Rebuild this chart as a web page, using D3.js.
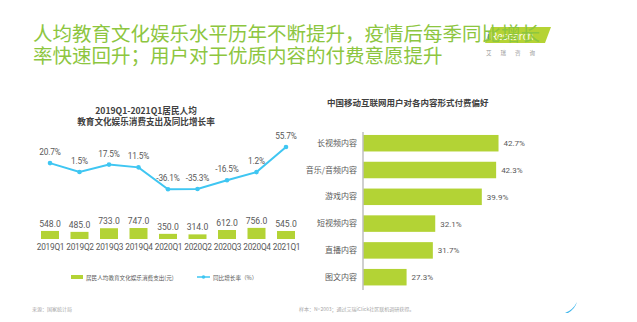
<!DOCTYPE html>
<html><head><meta charset="utf-8">
<script src="https://cdn.jsdelivr.net/npm/d3@7"></script>
<style>
html,body{margin:0;padding:0;background:#fff;}
svg{display:block;font-family:"Noto Sans CJK SC","Noto Sans",sans-serif;}
.num{font-family:Roboto,"Noto Sans",sans-serif;}
</style></head>
<body>
<script>
// ---- data ----
const quarters = ["2019Q1","2019Q2","2019Q3","2019Q4","2020Q1","2020Q2","2020Q3","2020Q4","2021Q1"];
const spending = [548.0,485.0,733.0,747.0,350.0,314.0,612.0,756.0,545.0];
const growth = [20.7,1.5,17.5,11.5,-36.1,-35.3,-16.5,1.2,55.7];
const contentTypes = ["长视频内容","音乐/音频内容","游戏内容","短视频内容","直播内容","图文内容"];
const payShare = [42.7,42.3,39.9,32.1,31.7,27.3];

const W=637,H=322;
const svg=d3.select("body").append("svg").attr("width",W).attr("height",H);
const green="#b3d335", blue="#3fc6f2", txt="#595959";

// logo
const logo=svg.append("g");
logo.append("path").attr("d","M491,27 L551,27 L545,43 L485,43 Z").attr("fill","#b5d334");
logo.append("text").attr("x",487).attr("y",40).attr("font-size",10).attr("fill","#3b8fd6").attr("font-family","Open Sans").text("i");
logo.append("text").attr("x",491).attr("y",40).attr("font-size",10).attr("fill","#fff").attr("font-family","Open Sans").text("Research");
logo.append("text").attr("x",486).attr("y",55).attr("font-size",5.5).attr("fill","#999").attr("letter-spacing",9).text("艾瑞咨询");

// main title
const title=svg.append("g").attr("fill","#8dc63f").attr("font-size",19.5);
title.append("text").attr("x",33).attr("y",41).text("人均教育文化娱乐水平历年不断提升，疫情后每季同比增长");
title.append("text").attr("x",33).attr("y",63).text("率快速回升；用户对于优质内容的付费意愿提升");

// ---- left chart ----
const L=svg.append("g");
L.append("text").attr("x",146).attr("y",114).attr("text-anchor","middle").attr("font-size",8.6).attr("font-weight","bold").attr("fill","#404040").text("2019Q1-2021Q1居民人均");
L.append("text").attr("x",146).attr("y",125).attr("text-anchor","middle").attr("font-size",8.6).attr("font-weight","bold").attr("fill","#404040").text("教育文化娱乐消费支出及同比增长率");

const x=d3.scalePoint().domain(quarters).range([50,286]);
const yb=d3.scaleLinear().domain([0,1000]).range([239,224.3]);
const yl=d3.scaleLinear().domain([-40,60]).range([191.1,145.0]);
const bw=18;

L.selectAll("rect.bar").data(quarters).join("rect").attr("class","bar")
  .attr("x",d=>x(d)-bw/2).attr("width",bw)
  .attr("y",(d,i)=>yb(spending[i])).attr("height",(d,i)=>yb(0)-yb(spending[i]))
  .attr("fill",green);
L.selectAll("text.bl").data(quarters).join("text").attr("class","bl num")
  .attr("x",d=>x(d)).attr("y",(d,i)=>yb(spending[i])-4)
  .attr("text-anchor","middle").attr("font-size",8.6).attr("fill",txt)
  .text((d,i)=>spending[i].toFixed(1));

const xAxis=d3.axisBottom(x).tickSize(0).tickPadding(0);
const ax=L.append("g").attr("transform","translate(0,244)").call(xAxis);
ax.select(".domain").remove();
ax.selectAll("text").attr("font-size",8.3).attr("fill",txt).attr("font-family","Roboto").attr("letter-spacing",-0.25).attr("dy","0.71em");

const line=d3.line().x((d,i)=>x(quarters[i])).y(d=>yl(d));
L.append("path").datum(growth).attr("d",line).attr("fill","none").attr("stroke",blue).attr("stroke-width",2);
L.selectAll("circle.pt").data(growth).join("circle").attr("class","pt")
  .attr("cx",(d,i)=>x(quarters[i])).attr("cy",d=>yl(d)).attr("r",2.3).attr("fill",blue);
L.selectAll("text.gl").data(growth).join("text").attr("class","gl num")
  .attr("x",(d,i)=>x(quarters[i])).attr("y",d=>yl(d)-8)
  .attr("text-anchor","middle").attr("font-size",8.3).attr("fill",txt).attr("letter-spacing",-0.2)
  .text(d=>d.toFixed(1)+"%");

// legend
L.append("rect").attr("x",71).attr("y",275).attr("width",12).attr("height",4).attr("fill",green);
L.append("text").attr("x",86).attr("y",279.5).attr("font-size",5.6).attr("fill",txt).text("居民人均教育文化娱乐消费支出(元)");
L.append("line").attr("x1",197).attr("x2",210).attr("y1",277).attr("y2",277).attr("stroke",blue).attr("stroke-width",1.5);
L.append("circle").attr("cx",203.5).attr("cy",277).attr("r",1.8).attr("fill",blue);
L.append("text").attr("x",213).attr("y",279.5).attr("font-size",5.6).attr("fill",txt).text("同比增长率（%）");

// ---- right chart ----
const R=svg.append("g");
R.append("text").attr("x",327).attr("y",106).attr("font-size",8.5).attr("font-weight","bold").attr("fill","#404040").text("中国移动互联网用户对各内容形式付费偏好");
const yc=d3.scaleBand().domain(contentTypes).range([129.6,290.8]).paddingInner(0.384).paddingOuter(0.2);
const xv=d3.scaleLinear().domain([20,50]).range([363,542.1]);
R.selectAll("rect.hb").data(contentTypes).join("rect").attr("class","hb")
  .attr("x",xv(20)).attr("y",d=>yc(d)).attr("height",yc.bandwidth())
  .attr("width",(d,i)=>xv(payShare[i])-xv(20)).attr("fill",green);
R.selectAll("text.hv").data(contentTypes).join("text").attr("class","hv num")
  .attr("x",(d,i)=>xv(payShare[i])+5).attr("y",d=>yc(d)+yc.bandwidth()/2+3)
  .attr("font-size",8).attr("fill",txt).text((d,i)=>payShare[i].toFixed(1)+"%");
const yAxis=d3.axisLeft(yc).tickSize(0).tickPadding(6);
const ay=R.append("g").attr("transform",`translate(${xv(20)},0)`).call(yAxis);
ay.select(".domain").attr("stroke","#bfbfbf").attr("stroke-width",1.5).attr("d",`M0,132V290`);
ay.selectAll("text").attr("font-size",8).attr("fill",txt).attr("font-family","Noto Sans CJK SC");

// footnotes
svg.append("text").attr("x",32).attr("y",311).attr("font-size",5).attr("fill","#a6a6a6").text("来源：国家统计局");
svg.append("text").attr("x",299).attr("y",311).attr("font-size",5).attr("fill","#a6a6a6").text("样本：N=2003；通过艾瑞iClick社区联机调研获得。");
// corner swoosh
svg.append("path").attr("d","M565,313 Q573,310 577,302 Q575,309 568,313 Z").attr("fill","#3fb6ec");
</script>
</body></html>
